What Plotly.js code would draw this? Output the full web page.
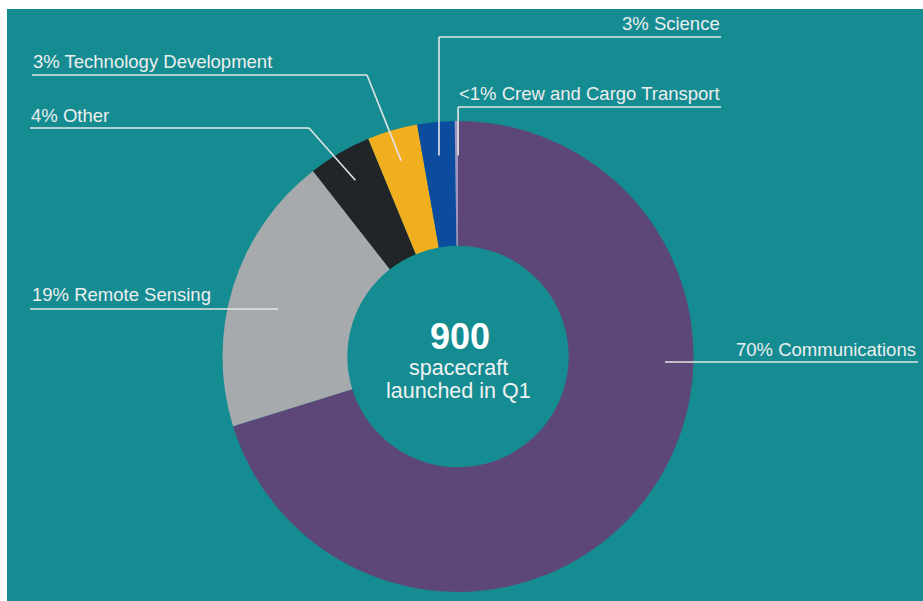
<!DOCTYPE html>
<html>
<head>
<meta charset="utf-8">
<script src="https://cdn.plot.ly/plotly-3.0.1.min.js"></script>
<style>html,body{margin:0;padding:0;background:#fff;}#chart{width:923px;height:601px;}</style>
</head>
<body>
<div id="chart"></div>
<script>
// ---- data ----
const categories = ["Communications", "Remote Sensing", "Other", "Technology Development", "Science", "Crew and Cargo Transport"];
const counts = [632, 173, 39, 31, 23, 2];
const pctLabels = ["70%", "19%", "4%", "3%", "3%", "<1%"];
const sliceColors = ["#5D4779", "#A6AAAC", "#222528", "#F1AE1F", "#0B4C9F", "#A092C2"];
const centerTotal = "900";
const centerLines = ["spacecraft", "launched in Q1"];

// ---- geometry (pixels) ----
const W = 923, H = 601;
const CX = 458, CY = 356.5, R = 235.5;
const px = x => x / W;
const py = y => 1 - y / H;
const total = counts.reduce((a, b) => a + b, 0);

// mid-angle point of slice i at radius r (clockwise from 12 o'clock)
function slicePoint(i, r) {
  let cum = 0;
  for (let k = 0; k < i; k++) cum += counts[k];
  const th = 2 * Math.PI * (cum + counts[i] / 2) / total;
  return [CX + r * Math.sin(th), CY - r * Math.cos(th)];
}

const lineCol = "#E4E4E4";
const shapes = [];
function seg(x0, y0, x1, y1) {
  shapes.push({type: "line", xref: "paper", yref: "paper",
    x0: px(x0), y0: py(y0), x1: px(x1), y1: py(y1),
    line: {color: lineCol, width: 1.6}});
}
// white frame edges
shapes.push({type: "rect", xref: "paper", yref: "paper", x0: 0, x1: 1, y0: py(9), y1: 1, fillcolor: "#FFFFFF", line: {width: 0}, layer: "above"});
shapes.push({type: "rect", xref: "paper", yref: "paper", x0: 0, x1: px(7), y0: 0, y1: 1, fillcolor: "#FFFFFF", line: {width: 0}, layer: "above"});

// Communications
seg(665, 362, 918, 362);
// Remote Sensing
seg(30, 309, 278, 309);
// Other
let p = slicePoint(2, 204);
seg(30, 128, 309, 128); seg(309, 128, p[0], p[1]);
// Technology Development
p = slicePoint(3, 204);
seg(32, 75, 367, 75); seg(367, 75, p[0], p[1]);
// Science
p = slicePoint(4, 202);
seg(p[0], 37, 721, 37); seg(p[0], 37, p[0], p[1]);
// Crew
p = slicePoint(5, 201);
seg(p[0] + 1.5, 107, 721, 107); seg(p[0] + 1.5, 107, p[0] + 1.5, p[1]);

const fnt = {family: "Liberation Sans, Arial, sans-serif", size: 18.5, color: "#EEEEEE"};
function lab(i, x, yMid, anchor) {
  return {xref: "paper", yref: "paper", x: px(x), y: py(yMid), xanchor: anchor, yanchor: "middle",
    text: pctLabels[i] + " " + categories[i], showarrow: false, font: fnt};
}
const annotations = [
  lab(0, 918, 349.6, "right"),
  lab(1, 30, 294.6, "left"),
  lab(2, 29, 115.6, "left"),
  lab(3, 31, 61.6, "left"),
  lab(4, 722, 23.6, "right"),
  lab(5, 722, 93.6, "right"),
  {xref: "paper", yref: "paper", x: px(CX + 2), y: py(336.5), xanchor: "center", yanchor: "middle",
   text: "<b>" + centerTotal + "</b>", showarrow: false,
   font: {family: "Liberation Sans, Arial, sans-serif", size: 36, color: "#FFFFFF"}},
  {xref: "paper", yref: "paper", x: px(CX), y: py(367.5), xanchor: "center", yanchor: "middle",
   text: centerLines[0], showarrow: false,
   font: {family: "Liberation Sans, Arial, sans-serif", size: 21.5, color: "#F2F2F2"}},
  {xref: "paper", yref: "paper", x: px(CX), y: py(390.5), xanchor: "center", yanchor: "middle",
   text: centerLines[1], showarrow: false,
   font: {family: "Liberation Sans, Arial, sans-serif", size: 21.5, color: "#F2F2F2"}}
];

const trace = {
  type: "pie",
  labels: categories,
  values: counts,
  sort: false,
  direction: "clockwise",
  rotation: 0,
  hole: 0.47,
  marker: {colors: sliceColors, line: {width: 0}},
  textinfo: "none",
  hoverinfo: "skip",
  showlegend: false,
  domain: {x: [px(CX - R), px(CX + R)], y: [py(CY + R), py(CY - R)]}
};

const layout = {
  width: W, height: H,
  margin: {l: 0, r: 0, t: 0, b: 0},
  paper_bgcolor: "#148C92",
  showlegend: false,
  shapes: shapes,
  annotations: annotations
};

Plotly.newPlot("chart", [trace], layout, {displayModeBar: false, staticPlot: true});
</script>
</body>
</html>
